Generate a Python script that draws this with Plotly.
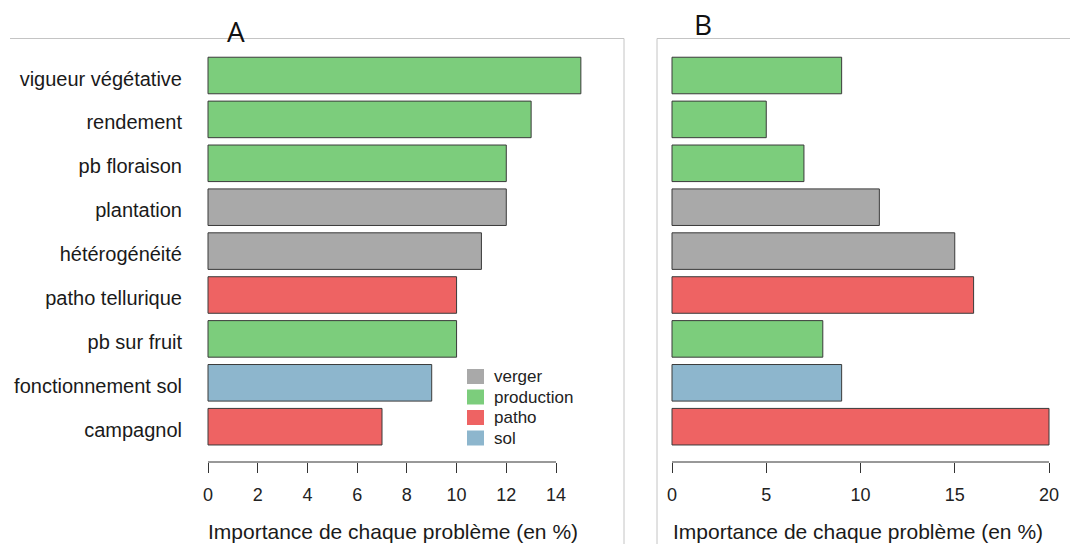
import plotly.graph_objects as go

categories = ["vigueur végétative", "rendement", "pb floraison", "plantation",
              "hétérogénéité", "patho tellurique", "pb sur fruit",
              "fonctionnement sol", "campagnol"]
groups = ["production", "production", "production", "verger", "verger",
          "patho", "production", "sol", "patho"]
values_A = [15, 13, 12, 12, 11, 10, 10, 9, 7]
values_B = [9, 5, 7, 11, 15, 16, 8, 9, 20]
ticks_A = [0, 2, 4, 6, 8, 10, 12, 14]
ticks_B = [0, 5, 10, 15, 20]
legend_order = ["verger", "production", "patho", "sol"]
group_colors = {"verger": "#A9A9A9", "production": "#7CCD7C",
                "patho": "#EE6363", "sol": "#8DB6CD"}

W, H = 1070, 544
def px_x(p): return p / W
def px_y(p): return 1 - p / H

FONT = "Liberation Sans, Arial, sans-serif"
colors = [group_colors[g] for g in groups]

fig = go.Figure()
fig.add_trace(go.Bar(y=categories, x=values_A, orientation="h", width=0.833,
                     marker=dict(color=colors, line=dict(color="#3a3a3a", width=1)),
                     xaxis="x", yaxis="y", showlegend=False))
fig.add_trace(go.Bar(y=categories, x=values_B, orientation="h", width=0.833,
                     marker=dict(color=colors, line=dict(color="#3a3a3a", width=1)),
                     xaxis="x2", yaxis="y2", showlegend=False))

# plot areas (pixel based)
A_left, A_right = 200, 620
B_left, B_right = 664, 1060
top, bottom = 50, 462
A_zero, A_pxu = 208, (556 - 208) / 14
B_zero, B_pxu = 672, (1049 - 672) / 20
A_range = [(A_left - A_zero) / A_pxu, (A_right - A_zero) / A_pxu]
B_range = [(B_left - B_zero) / B_pxu, (B_right - B_zero) / B_pxu]
spacing = 43.9
first_c = 75.5
y_top = -(first_c - top) / spacing
y_bot = (bottom - first_c) / spacing
y_range = [y_bot, y_top]

xax_common = dict(showgrid=False, zeroline=False, showline=False, ticks="outside",
                  ticklen=10, tickwidth=1, tickcolor="#333333",
                  tickfont=dict(family=FONT, size=18, color="#222222"),
                  ticklabelstandoff=6, fixedrange=True)
fig.update_layout(
    width=W, height=H, margin=dict(l=0, r=0, t=0, b=0),
    paper_bgcolor="white", plot_bgcolor="white",
    barmode="overlay", showlegend=False,
    xaxis=dict(domain=[px_x(A_left), px_x(A_right)], range=A_range,
               tickvals=ticks_A, anchor="y", **xax_common),
    xaxis2=dict(domain=[px_x(B_left), px_x(B_right)], range=B_range,
                tickvals=ticks_B, anchor="y2", **xax_common),
    yaxis=dict(domain=[px_y(bottom), px_y(top)], range=y_range,
               categoryorder="array", categoryarray=categories,
               showgrid=False, zeroline=False, showline=False, ticks="",
               tickfont=dict(family=FONT, size=20, color="#1a1a1a"),
               ticklabelstandoff=17, ticklabelshift=-3, anchor="x"),
    yaxis2=dict(domain=[px_y(bottom), px_y(top)], range=y_range,
                categoryorder="array", categoryarray=categories,
                showgrid=False, zeroline=False, showline=False, ticks="",
                showticklabels=False, anchor="x2"),
)

shapes = []
# axis lines spanning first to last tick
shapes.append(dict(type="line", xref="x", yref="paper", x0=ticks_A[0], x1=ticks_A[-1],
                   y0=px_y(bottom), y1=px_y(bottom), line=dict(color="#333333", width=1)))
shapes.append(dict(type="line", xref="x2", yref="paper", x0=ticks_B[0], x1=ticks_B[-1],
                   y0=px_y(bottom), y1=px_y(bottom), line=dict(color="#333333", width=1)))
# panel frames
frame = dict(color="#C4C4C4", width=1)
shapes += [
    dict(type="line", xref="paper", yref="paper", x0=px_x(10), x1=px_x(624), y0=px_y(38.5), y1=px_y(38.5), line=frame),
    dict(type="line", xref="paper", yref="paper", x0=px_x(624), x1=px_x(624), y0=px_y(38.5), y1=0, line=frame),
    dict(type="line", xref="paper", yref="paper", x0=px_x(657), x1=1, y0=px_y(38.5), y1=px_y(38.5), line=frame),
    dict(type="line", xref="paper", yref="paper", x0=px_x(657), x1=px_x(657), y0=px_y(38.5), y1=0, line=frame),
]

# legend (swatches + labels)
leg_x0, leg_top, leg_step, sw_w, sw_h = 467, 369, 20.5, 17, 15
for i, g in enumerate(legend_order):
    t = leg_top + i * leg_step
    shapes.append(dict(type="rect", xref="paper", yref="paper",
                       x0=px_x(leg_x0), x1=px_x(leg_x0 + sw_w),
                       y0=px_y(t + sw_h), y1=px_y(t),
                       fillcolor=group_colors[g], line=dict(width=0)))
    fig.add_annotation(text=g, xref="paper", yref="paper",
                       x=px_x(leg_x0 + 25), y=px_y(t + sw_h / 2),
                       xanchor="left", yanchor="middle", showarrow=False,
                       font=dict(family=FONT, size=17, color="#222222"))
fig.update_layout(shapes=shapes)

title_txt = "Importance de chaque problème (en %)"
for cx in (393, 858):
    fig.add_annotation(text=title_txt, xref="paper", yref="paper", x=px_x(cx), y=px_y(531),
                       xanchor="center", yanchor="middle", showarrow=False,
                       font=dict(family=FONT, size=21, color="#1a1a1a"))
fig.add_annotation(text="A", xref="paper", yref="paper", x=px_x(236), y=px_y(31),
                   xanchor="center", yanchor="middle", showarrow=False,
                   font=dict(family="Open Sans, sans-serif", size=28, color="#111111"))
fig.add_annotation(text="B", xref="paper", yref="paper", x=px_x(703), y=px_y(24),
                   xanchor="center", yanchor="middle", showarrow=False,
                   font=dict(family="Open Sans, sans-serif", size=28, color="#111111"))

fig.write_html("out.html", config={"displayModeBar": False},
               post_script="document.body.style.margin='0';document.body.style.padding='0';")
